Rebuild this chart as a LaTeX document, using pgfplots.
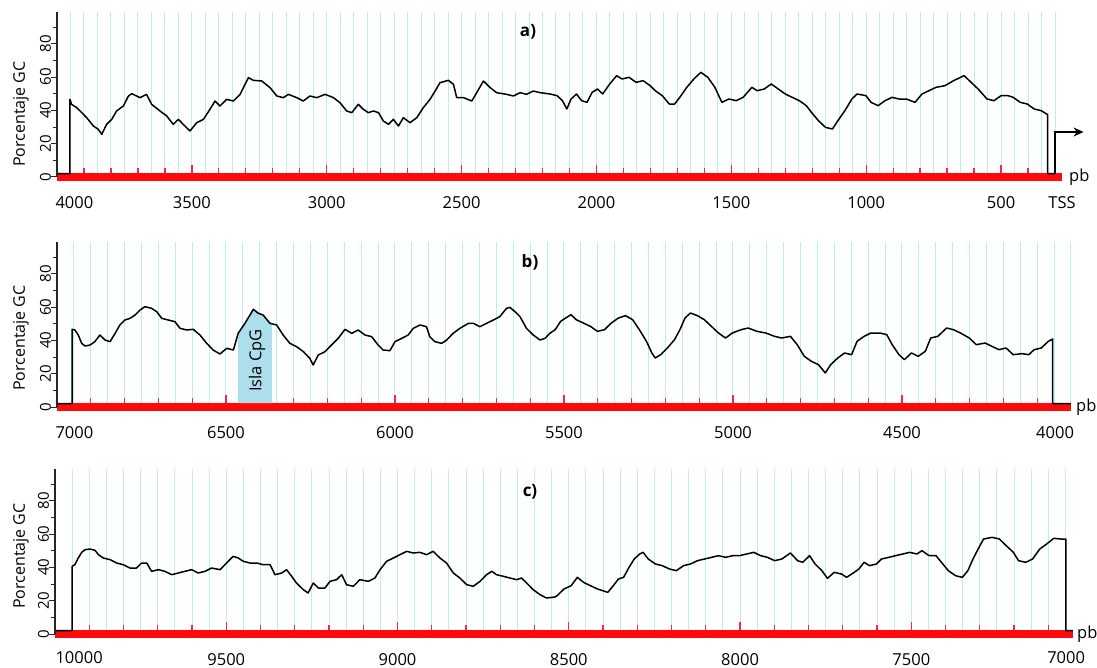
\documentclass[border=0pt]{standalone}
\usepackage{pgfplots}
\pgfplotsset{compat=1.18}
\usepackage{pgfplotstable}
\usepackage{fontspec}
\setmainfont{Open Sans}
\usetikzlibrary{arrows.meta}

\definecolor{gridblue}{RGB}{190,235,245}
\definecolor{barred}{RGB}{255,10,10}
\definecolor{tickred}{RGB}{240,40,80}
\definecolor{cpgblue}{RGB}{172,222,236}

\newcommand{\ticksize}{\fontsize{16.5}{19}\selectfont}
\newcommand{\yticksize}{\fontsize{15}{17}\selectfont}

% panel a: 4000 .. TSS
\pgfplotstableread{
x y
4000 2
3952 2
3952 46.6
3946 43.6
3927 41.6
3908 38.6
3890 35.6
3865 30.6
3847 28.6
3834 25.6
3816 31.6
3797 34.6
3779 39.6
3754 42.6
3735 48.6
3723 50
3692 47.6
3668 49.6
3649 43.6
3618 39.6
3593 36.6
3569 31.6
3550 34.6
3532 31.6
3507 27.6
3482 32.6
3457 34.6
3433 40.6
3414 45.6
3396 42.6
3371 46.6
3346 45.6
3321 49.6
3303 55.6
3290 59.6
3272 58
3241 57.6
3210 53.6
3185 48.6
3161 47.6
3142 49.6
3111 47.6
3087 45.6
3062 48.6
3037 47.6
3006 49.6
2975 47.6
2951 44.6
2926 39.6
2907 38.6
2883 43.6
2864 40.6
2846 38.6
2827 39.6
2808 38.6
2790 33.6
2771 31.6
2753 34.6
2734 30.6
2716 35.6
2691 32.6
2666 35.6
2642 41.6
2617 46.6
2598 51.6
2580 56.6
2549 58
2530 55.6
2518 47.6
2493 47.6
2462 45.6
2444 50.6
2419 57.6
2394 53.6
2370 50.6
2333 49.6
2308 48.6
2283 50.6
2259 49.6
2234 51.6
2209 50.6
2172 49.8
2146 48.8
2126 45.8
2110 40.8
2094 46.8
2074 49.8
2055 45.8
2035 44.8
2016 50.8
1996 52.8
1977 49.8
1951 55.8
1925 60.8
1905 58.8
1879 59.8
1853 56.8
1827 57.8
1801 54.8
1782 51.8
1756 48.8
1730 43.8
1710 43.8
1691 47.8
1665 53.8
1639 58.8
1613 62.8
1587 59.8
1561 53.8
1535 44.8
1509 46.8
1482 45.8
1456 47.8
1424 53.8
1404 51.8
1378 52.8
1352 55.8
1326 52.8
1300 49.8
1274 47.8
1248 45.8
1222 42.8
1203 38.8
1177 33.8
1151 29.8
1125 28.8
1105 33.8
1079 39.8
1053 46.8
1034 49.8
1001 48.8
982 44.8
956 42.8
930 45.8
904 47.8
878 46.8
851 46.8
819 44.8
793 49.8
767 51.8
741 53.8
708 54.8
676 57.8
637 60.8
611 56.8
585 52.8
552 46.8
526 45.8
500 48.8
474 48.8
455 47.8
429 44.8
403 43.8
377 40.8
351 39.8
327 37.4
327 2
299 2
}\serieA

% panel b: 7000 .. 4000
\pgfplotstableread{
x y
7000 2
6955 2
6955 46.6
6947 46.2
6937 43.2
6927 38.2
6917 36.6
6902 37.2
6888 39.2
6873 43.2
6858 40.2
6843 39.2
6828 44.2
6814 49.2
6799 52.2
6784 53.2
6769 55.2
6754 58.2
6740 60.2
6720 59.2
6705 57.2
6690 53.2
6671 52.2
6651 51.2
6636 47.2
6616 46.2
6597 46.6
6577 43.2
6557 38.2
6538 34.2
6518 31.8
6498 35.2
6478 34.2
6464 44.2
6444 50.2
6429 55.2
6419 58.6
6404 56.2
6390 55.2
6370 50.2
6350 49.2
6331 43.2
6311 38.2
6291 36.2
6271 33.2
6252 29.2
6242 25.2
6227 31.2
6207 33.2
6188 37.2
6168 41.2
6148 46.6
6128 44.2
6109 46.2
6089 43.2
6069 42.2
6050 37.2
6035 34.2
6015 33.8
6000 39.2
5980 41.2
5961 43.2
5946 47.2
5926 49.2
5907 48.2
5897 42.2
5882 39.2
5862 38.2
5847 40.2
5828 44.2
5808 47.2
5783 50.2
5768 50.2
5749 48.2
5729 50.2
5709 52.2
5690 54.2
5670 59.2
5660 59.8
5645 57.2
5630 54.2
5611 47.2
5591 43.2
5571 40.2
5556 41.2
5542 44.2
5526 46.4
5510 51.4
5495 53.4
5479 55.4
5464 52.4
5443 50.4
5422 48.4
5401 45.4
5380 46.4
5360 50.4
5339 53.4
5318 54.8
5297 52.4
5277 46.4
5256 39.4
5240 32.4
5230 29.4
5214 31.4
5194 35.4
5173 40.4
5157 46.4
5142 53.4
5126 56.4
5105 54.8
5085 52.4
5064 48.4
5043 44.4
5022 41.4
5002 44.4
4976 46.4
4955 47.4
4929 45.4
4903 44.4
4877 42.4
4856 41.4
4830 42.4
4810 37.4
4789 30.4
4768 27.4
4747 25.4
4727 20.4
4711 25.4
4690 29.4
4670 32.4
4649 31.4
4633 39.4
4612 42.4
4592 44.4
4566 44.4
4545 43.4
4529 37.4
4509 31.4
4493 28.4
4472 32.4
4452 30.4
4431 33.4
4415 41.4
4394 42.4
4368 47.4
4348 46.4
4327 44.4
4301 41.4
4280 37.4
4254 38.4
4234 36.4
4213 34.4
4192 35.4
4171 31.4
4145 32
4125 31.4
4109 34.4
4088 35.4
4067 39.4
4054 40.8
4054 2
4000 2
}\serieB

% panel c: 10000 .. 7000
\pgfplotstableread{
x y
10000 2
9950 2
9950 40.6
9942 41.6
9932 45.6
9922 49
9912 50.6
9898 51
9883 50.2
9873 47.6
9859 45.6
9839 44.6
9820 42.6
9801 41.6
9781 39.6
9762 39.6
9747 42.6
9732 42.6
9718 37.6
9698 38.6
9679 37.6
9659 35.6
9640 36.6
9621 37.6
9601 38.6
9582 36.6
9562 37.6
9543 39.6
9518 38.6
9499 42.6
9480 46.6
9465 45.6
9450 43.6
9431 42.6
9411 42.6
9392 41.6
9372 41.6
9358 35.6
9338 36.6
9324 38.6
9309 34.6
9295 30.6
9275 26.6
9261 24.6
9246 30.6
9231 27.6
9212 27.6
9197 31.6
9178 32.6
9163 35.6
9149 29.6
9129 28.6
9110 32.6
9085 31.6
9066 33.6
9051 38.6
9032 43.6
9012 45.6
8993 47.6
8973 49.6
8954 48.6
8935 49
8915 47.6
8896 49.6
8876 45.6
8857 42.6
8837 36.6
8818 33.6
8798 29.6
8779 28.6
8759 31.6
8740 35.6
8725 37.6
8711 35.6
8691 34.6
8672 33.6
8652 32.6
8638 33.6
8623 30.6
8604 26.6
8584 23.6
8565 21.6
8540 22.2
8534 23
8514 27
8493 29
8475 34
8457 31
8437 29
8416 27
8401 26
8386 25
8370 29
8355 33
8340 34
8324 40
8309 45
8293 48
8283 49
8268 45
8247 42
8227 41
8206 39
8186 38
8165 41
8145 42
8124 44
8104 45
8083 46
8063 47
8042 46
8022 47
8002 47
7981 48
7960 49
7940 47
7920 46
7899 44
7878 45
7853 48.6
7832 44
7817 43
7797 47
7781 42
7761 38
7745 33.4
7725 37
7704 36
7689 34
7674 36
7653 39
7638 43
7622 41
7602 42
7587 45
7566 46
7546 47
7525 48
7505 49
7484 48
7469 50
7448 47
7428 47
7412 43
7392 38
7371 35
7351 34
7335 38
7320 45
7305 51
7289 57
7264 58
7243 57
7223 53
7202 49
7187 44
7166 43
7146 45
7125 51
7105 54
7084 57.4
7064 57
7049 57
7049 2
7028 2
}\serieC

\pgfplotsset{
  panel/.style={scale only axis, anchor=south west, x dir=reverse,
    ymin=0, ymax=99, height=165pt, clip=false,
    scaled x ticks=false, scaled y ticks=false,
    axis line style={draw=none}},
  % light blue vertical lines, every 50 pb
  gridax/.style={panel, ytick=\empty, xticklabels={}, xmajorgrids,
    major tick length=0pt, xtick style={draw=none},
    major grid style={gridblue, line width=1pt}},
  % red bar, red ticks and pb labels
  decor/.style={panel, ytick=\empty, xtick pos=left, tick align=inside,
    major tick length=12pt, minor tick length=9pt,
    xtick style={tickred, line width=1.3pt},
    xticklabel style={font=\ticksize, anchor=base, yshift=-31pt}},
  % GC curve and y axis
  curve/.style={panel, xtick=\empty,
    ytick={0,20,40,60,80}, yticklabels={0,20,40,60,80},
    minor ytick={10,30,50,70,90}, ytick pos=left, tick align=outside,
    major tick length=6pt, minor tick length=3.5pt,
    ytick style={black!85, line width=1pt},
    yticklabel style={font=\yticksize, rotate=90, anchor=base}},
  gcline/.style={black, line width=1.5pt, line join=round},
}

\begin{document}
\begin{tikzpicture}[x=1pt,y=1pt]
\useasboundingbox (0pt,0pt) rectangle (1097pt,-668pt);

% ---------- a) ----------
\begin{axis}[gridax, at={(57pt,-177pt)}, width=1005pt, xmin=274, xmax=4000,
  xtick={300,350,...,3950}]
\end{axis}
\begin{axis}[decor, at={(57pt,-177pt)}, width=1005pt, xmin=274, xmax=4000,
  xtick={500,1000,...,3500}, xticklabels={500,1000,1500,2000,2500,3000,3500},
  minor xtick={400,500,...,3900}]
\draw[barred, line width=8pt] (axis cs:4000,0) -- (axis cs:274,0);
\node[font=\ticksize, anchor=base west, xshift=-5pt, yshift=-31pt] at (axis cs:4000,0) {4000};
\node[font=\ticksize, anchor=base, yshift=-31pt] at (axis cs:274,0) {TSS};
\node[font=\ticksize, anchor=west, inner sep=0pt, xshift=7pt] at (axis cs:274,0) {pb};
\end{axis}
\begin{axis}[curve, at={(57pt,-177pt)}, width=1005pt, xmin=274, xmax=4000]
\addplot[gcline] table {\serieA};
\draw[black!85, line width=1.8pt] (axis cs:4000,0) -- (axis cs:4000,99);
\draw[black, line width=1.8pt, -{Stealth[length=10pt,width=9pt]}]
  (axis cs:299,1.5) -- (axis cs:299,27) -- (axis cs:194,27);
\end{axis}

% ---------- b) ----------
\begin{axis}[gridax, at={(57pt,-407pt)}, width=1014pt, xmin=4000, xmax=7000,
  xtick={4000,4050,...,6950}]
\end{axis}
\begin{axis}[decor, at={(57pt,-407pt)}, width=1014pt, xmin=4000, xmax=7000,
  xtick={4500,5000,...,6500}, xticklabels={4500,5000,5500,6000,6500},
  minor xtick={4100,4200,...,6900}]
\draw[barred, line width=8pt] (axis cs:7000,0) -- (axis cs:4000,0);
\node[font=\ticksize, anchor=base west, xshift=-5pt, yshift=-31pt] at (axis cs:7000,0) {7000};
\node[font=\ticksize, anchor=base, yshift=-31pt] at (axis cs:4047,0) {4000};
\node[font=\ticksize, anchor=west, inner sep=0pt, xshift=5pt] at (axis cs:4000,0) {pb};
\end{axis}
\begin{axis}[curve, at={(57pt,-407pt)}, width=1014pt, xmin=4000, xmax=7000]
\addplot[draw=none, fill=cpgblue] coordinates {(6464,2.4) (6464,44.2) (6444,50.2)
  (6429,55.2) (6419,58.6) (6404,56.2) (6390,55.2) (6370,50.2) (6364,49.8) (6364,2.4)} -- cycle;
\node[font=\ticksize, rotate=90] at (axis cs:6408,28) {Isla CpG};
\addplot[gcline] table {\serieB};
\draw[black!85, line width=1.8pt] (axis cs:7000,0) -- (axis cs:7000,99);
\end{axis}

% ---------- c) ----------
\begin{axis}[gridax, at={(55pt,-634pt)}, width=1018pt, xmin=7028, xmax=10000,
  xtick={7050,7100,...,9950}]
\end{axis}
\begin{axis}[decor, at={(55pt,-634pt)}, width=1018pt, xmin=7028, xmax=10000,
  xtick={7500,8000,...,9500}, xticklabels={7500,8000,8500,9000,9500},
  minor xtick={7100,7200,...,9900}]
\draw[barred, line width=8pt] (axis cs:10000,0) -- (axis cs:7028,0);
\node[font=\ticksize, anchor=base west, xshift=-3pt, yshift=-29pt] at (axis cs:10000,0) {10000};
\node[font=\ticksize, anchor=base, yshift=-29pt] at (axis cs:7048,0) {7000};
\node[font=\ticksize, anchor=west, inner sep=0pt, xshift=4pt] at (axis cs:7028,0) {pb};
\end{axis}
\begin{axis}[curve, at={(55pt,-634pt)}, width=1018pt, xmin=7028, xmax=10000]
\addplot[gcline] table {\serieC};
\draw[black!85, line width=1.8pt] (axis cs:10000,0) -- (axis cs:10000,99);
\end{axis}

% panel letters and y titles
\node[font=\bfseries\fontsize{17}{20}\selectfont] at (528pt,-32pt) {a)};
\node[font=\bfseries\fontsize{17}{20}\selectfont] at (530pt,-262pt) {b)};
\node[font=\bfseries\fontsize{17}{20}\selectfont] at (530pt,-492pt) {c)};
\foreach \yy in {114,338,556}
  \node[font=\fontsize{16}{18}\selectfont, rotate=90] at (21pt,-\yy pt) {Porcentaje GC};
\end{tikzpicture}
\end{document}
